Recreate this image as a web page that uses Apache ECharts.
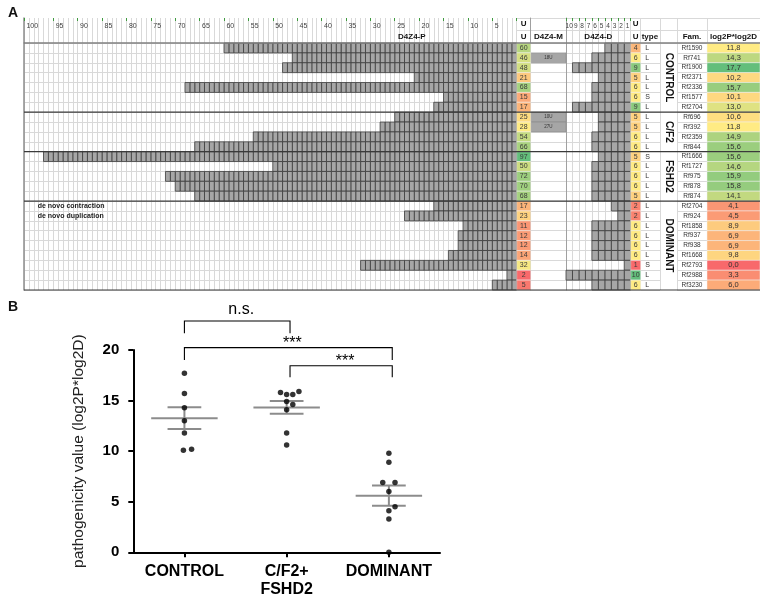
<!DOCTYPE html>
<html><head><meta charset="utf-8">
<script src="https://cdn.jsdelivr.net/npm/echarts@6/dist/echarts.min.js"></script>
<style>html,body{margin:0;padding:0;background:#fff}#c{width:760px;height:599px}</style>
</head><body><div id="c"></div><script>
// ---------------- DATA ----------------
const families = ['Rf1590','Rf741','Rf1900','Rf2371','Rf2336','Rf1577','Rf2704','Rf696','Rf392','Rf2359','Rf844','Rf1666','Rf1727','Rf975','Rf878','Rf874','Rf2704','Rf924','Rf1858','Rf937','Rf938','Rf1668','Rf2793','Rf2988','Rf3230'];
const groupNames = ['CONTROL','C/F2','FSHD2','DOMINANT'];
const groupSizes = [7,4,5,9];
const proximalUnits = [60,46,48,21,68,15,17,25,28,54,66,97,50,72,70,68,17,23,11,12,12,14,32,2,5];
const proximalCells = [60,46,48,21,68,15,17,25,28,54,66,97,50,72,70,66,17,23,11,12,12,14,32,2,5];
const middleLabels = ['','18U','','','','','','10U','27U','','','','','','','','','','','','','','','',''];
const distalUnits = [4,6,9,5,6,6,9,5,5,6,6,5,6,6,6,5,2,2,6,6,6,6,1,10,6];
const distalCells = [4,6,9,5,6,6,9,5,5,6,6,5,6,6,6,6,3,2,6,6,6,6,1,10,6];
const haplotype = ['L','L','L','L','L','S','L','L','L','L','L','S','L','L','L','L','L','L','L','L','L','L','S','L','L'];
const pathoScore = [11.8,14.3,17.7,10.2,15.7,10.1,13.0,10.6,11.8,14.9,15.6,15.6,14.6,15.9,15.8,14.1,4.1,4.5,8.9,6.9,6.9,9.8,0.0,3.3,6.0];
const noteRows = [16,17];
const noteTexts = ['de novo contraction','de novo duplication'];
const proxTickAt = [101,95,90,85,80,75,70,65,60,55,50,45,40,35,30,25,20,15,10,5];
const proxTickLabels = ['100','95','90','85','80','75','70','65','60','55','50','45','40','35','30','25','20','15','10','5'];
const distTickLabels = ['10','9','8','7','6','5','4','3','2','1'];

const plotCategories = ['CONTROL','C/F2+\nFSHD2','DOMINANT'];
const plotGroupOfTableGroup = [0,1,1,2];
const pointJitter = [0,0,0,0.07,0,-0.01,0, 0,0,0,0,0.06,0.06,0.12,-0.06,0, 0,0.06,0,-0.06,0.06,0,0,0,0];
const meanValues = [13.26,14.32,5.6];
const semValues = [1.07,0.63,1.0];
const compFrom = [0,0,1];
const compTo = [1,2,2];
const compLabels = ['n.s.','***','***'];

// ---------------- LAYOUT / STYLE ----------------
const FONT = '"Liberation Sans", Arial, sans-serif';
const HDR_TOP = 18, HDR_H = 25, DATA_TOP = 43, DATA_H = 247;
const colKeys = ['P','U1','M','D','U2','T','G','F','S'];
const colSpan = {P:[24,516.7],U1:[516.7,530.7],M:[530.7,566],D:[566,630.7],U2:[630.7,640.7],T:[640.7,660],G:[660,677],F:[677,707],S:[707,760]};
const GRID_LINE = '#d9d9d9';
const bracketTop = [22.87,20.23,18.45];
const bracketDrop = [1.22,1.22,1.15];
const bracketEndOff = [0,0.033];

const rows = families.length;
const rowCats = families.map((f,i)=>'r'+i);
const proxCats = Array.from({length:101},(_,i)=>String(101-i));
const rowGroup = [];
groupSizes.forEach((n,g)=>{for(let i=0;i<n;i++) rowGroup.push(g);});
const groupStart = [];
{let s=0; groupSizes.forEach(n=>{groupStart.push(s); s+=n;});}

function median(a){const s=[...a].sort((x,y)=>x-y);const n=s.length;return n%2?s[(n-1)/2]:(s[n/2-1]+s[n/2])/2;}
function excel3(v, arr){
  const mn=Math.min(...arr), mx=Math.max(...arr), md=median(arr);
  const red=[248,105,107], yel=[255,235,132], grn=[99,190,123];
  let a,b,t;
  if(v<=md){a=red;b=yel;t=(v-mn)/(md-mn||1);}else{a=yel;b=grn;t=(v-md)/(mx-md||1);}
  t=Math.max(0,Math.min(1,t));
  return 'rgb('+a.map((x,i)=>Math.round(x+(b[i]-x)*t)).join(',')+')';
}
function pos(api,x,y){
  const xs=Array.isArray(x)?x:[x,x], ys=Array.isArray(y)?y:[y,y];
  const a=api.coord([xs[0],ys[0]]), b=api.coord([xs[1],ys[1]]);
  return [(a[0]+b[0])/2,(a[1]+b[1])/2];
}
function textEl(api,it){
  const p=pos(api,it.x,it.y);
  const bw=api.size([1,1])[0];
  let x=p[0];
  if(it.align==='left') x=p[0]-bw/2+(it.dx||0);
  return {type:'text',x:x,y:p[1],rotation:it.rotate||0,silent:true,
    style:{text:it.text,fill:it.color||'#222',fontSize:it.size||7,fontWeight:it.weight||'normal',fontFamily:FONT,align:it.align||'center',verticalAlign:'middle'}};
}
function textSeries(ai,items){
  return {type:'custom',xAxisIndex:ai,yAxisIndex:ai,silent:true,z:6,animation:false,
    data:items.map(()=>[0,0]),
    renderItem:(params,api)=>textEl(api,items[params.dataIndex])};
}
function cellSeries(ai,items,z){
  return {type:'custom',xAxisIndex:ai,yAxisIndex:ai,silent:true,z:z||3,animation:false,
    data:items.map(it=>[it.x,it.y]),
    renderItem:(params,api)=>{
      const it=items[params.dataIndex];
      const c=api.coord([it.x,it.y]); const s=api.size([1,1]);
      const children=[{type:'rect',shape:{x:c[0]-s[0]/2,y:c[1]-s[1]/2,width:s[0],height:s[1]},
        style:{fill:it.fill,stroke:it.stroke||null,lineWidth:it.lw||0}}];
      if(it.text!==undefined && it.text!=='') children.push({type:'text',x:c[0],y:c[1],
        style:{text:it.text,fill:it.color||'#333',fontSize:it.size||7,fontFamily:FONT,align:'center',verticalAlign:'middle'}});
      return {type:'group',children:children};
    }};
}

// ---------------- AXES ----------------
const grids=[], xAxes=[], yAxes=[], series=[];
colKeys.forEach((k,ci)=>{
  const [l,r]=colSpan[k];
  const cats = k==='P'?proxCats:(k==='D'?distTickLabels:['c']);
  const vline = (k==='P'||k==='M'||k==='D');
  const vlineStyle = {color:k==='P'?'#8c8c8c':'#a0a0a0',width:k==='P'?1.5:1};
  grids.push({left:l,top:HDR_TOP,width:r-l,height:HDR_H});
  grids.push({left:l,top:DATA_TOP,width:r-l,height:DATA_H});
  const hx={gridIndex:2*ci,type:'category',data:cats,position:'top',boundaryGap:true,
    axisLine:{show:false},axisTick:{show:false},axisLabel:{show:false},
    splitLine:{show:true,interval:0,lineStyle:{color:GRID_LINE,width:1}}};
  if(k==='P'){
    hx.axisTick={show:true,inside:true,length:3,interval:(i,v)=>proxTickAt.indexOf(+v)>=0,lineStyle:{color:'#3f9a3f',width:1}};
    hx.axisLabel={show:true,inside:true,margin:5,interval:(i,v)=>proxTickAt.indexOf(+v)>=0,
      formatter:(v)=>proxTickLabels[proxTickAt.indexOf(+v)],align:'left',fontSize:7,color:'#404040',fontFamily:FONT};
  }
  if(k==='D'){
    hx.axisTick={show:true,inside:true,length:3,interval:0,lineStyle:{color:'#3f9a3f',width:1}};
    hx.axisLabel={show:true,inside:true,margin:5,interval:0,fontSize:6.5,color:'#404040',fontFamily:FONT};
  }
  xAxes.push(hx);
  xAxes.push({gridIndex:2*ci+1,type:'category',data:cats,boundaryGap:true,
    axisLine:{show:false},axisTick:{show:false},axisLabel:{show:false},
    splitLine:{show:k!=='G',interval:0,lineStyle:{color:GRID_LINE,width:1}}});
  yAxes.push({gridIndex:2*ci,type:'category',data:['h0','h1'],inverse:true,
    axisLine:{show:vline,lineStyle:vlineStyle},axisTick:{show:false},axisLabel:{show:false},
    splitLine:{show:k!=='P',interval:0,lineStyle:{color:GRID_LINE,width:1}}});
  yAxes.push({gridIndex:2*ci+1,type:'category',data:rowCats,inverse:true,
    axisLine:{show:vline,lineStyle:vlineStyle},axisTick:{show:false},axisLabel:{show:false},
    splitLine:{show:k!=='G',interval:0,lineStyle:{color:GRID_LINE,width:1}}});
});
// frame grid (18)
grids.push({left:24,top:DATA_TOP,width:736,height:DATA_H});
xAxes.push({gridIndex:18,type:'value',min:0,max:1,show:false});
yAxes.push({gridIndex:18,type:'value',min:0,max:rows,inverse:true,show:false});
// scatter grid (19)
grids.push({left:133.3,top:350,width:306.7,height:202.3});
xAxes.push({gridIndex:19,type:'category',data:plotCategories,boundaryGap:true,
  axisLine:{show:true,lineStyle:{color:'#000',width:2}},
  axisTick:{show:true,alignWithLabel:true,length:5,interval:0,lineStyle:{color:'#000',width:2}},
  axisLabel:{interval:0,fontSize:16,fontWeight:'bold',color:'#000',margin:10,fontFamily:FONT,lineHeight:18},
  splitLine:{show:false}});
xAxes.push({gridIndex:19,type:'value',min:0,max:3,show:false});
yAxes.push({gridIndex:19,type:'value',min:0,max:20,interval:5,
  axisLine:{show:true,lineStyle:{color:'#000',width:2}},
  axisTick:{show:true,length:5,lineStyle:{color:'#000',width:2}},
  axisLabel:{fontSize:15,fontWeight:'bold',color:'#000',margin:14,fontFamily:FONT},
  splitLine:{show:false},
  name:'pathogenicity value (log2P*log2D)',nameLocation:'middle',nameGap:47,
  nameTextStyle:{fontSize:15.5,color:'#222',fontFamily:FONT}});

const AI = {}; colKeys.forEach((k,ci)=>{AI[k]={h:2*ci,d:2*ci+1};});

// ---------------- TABLE SERIES ----------------
const proxItems=[];
proximalCells.forEach((n,r)=>{for(let u=1;u<=n;u++) proxItems.push({x:101-u,y:r,fill:'#a6a6a6',stroke:'#3c3c3c',lw:0.8});});
series.push(cellSeries(AI.P.d,proxItems));
const distItems=[];
distalCells.forEach((n,r)=>{for(let u=1;u<=n;u++) distItems.push({x:10-u,y:r,fill:'#a6a6a6',stroke:'#3c3c3c',lw:0.8});});
series.push(cellSeries(AI.D.d,distItems));
const midItems=[];
middleLabels.forEach((t,r)=>{if(t) midItems.push({x:0,y:r,fill:'#a6a6a6',stroke:'#8a8a8a',lw:0.6,text:t,size:4.5,color:'#333'});});
series.push(cellSeries(AI.M.d,midItems));
series.push(cellSeries(AI.U1.d,proximalUnits.map((v,r)=>({x:0,y:r,fill:excel3(v,proximalUnits),stroke:'#f2f2f2',lw:0.5,text:String(v),size:7,color:'#3a3a3a'}))));
series.push(cellSeries(AI.U2.d,distalUnits.map((v,r)=>({x:0,y:r,fill:excel3(v,distalUnits),stroke:'#f2f2f2',lw:0.5,text:String(v),size:7,color:'#3a3a3a'}))));
series.push(cellSeries(AI.S.d,pathoScore.map((v,r)=>({x:0,y:r,fill:excel3(v,pathoScore),stroke:'#f2f2f2',lw:0.5,text:v.toFixed(1).replace('.',','),size:7.5,color:'#333'}))));
series.push(textSeries(AI.T.d,haplotype.map((t,r)=>({x:0,y:r,text:t,align:'left',dx:4.5,size:7,color:'#333'}))));
series.push(textSeries(AI.F.d,families.map((t,r)=>({x:0,y:r,text:t,size:6.5,color:'#333'}))));
series.push(textSeries(AI.G.d,groupNames.map((g,i)=>({x:0,y:[groupStart[i],groupStart[i]+groupSizes[i]-1],text:g,rotate:-Math.PI/2,weight:'bold',size:10,color:'#111'}))));
series.push(textSeries(AI.P.d,noteRows.map((r,i)=>({x:3,y:r,text:noteTexts[i],align:'left',dx:-1,size:7,weight:'bold',color:'#222'}))));
const HB={weight:'bold',size:8,color:'#111'};
series.push(textSeries(AI.P.h,[Object.assign({x:79,y:1,text:'D4Z4-P'},HB)]));
series.push(textSeries(AI.U1.h,[Object.assign({x:0,y:0,text:'U'},HB),Object.assign({x:0,y:1,text:'U'},HB)]));
series.push(textSeries(AI.M.h,[Object.assign({x:0,y:1,text:'D4Z4-M'},HB)]));
series.push(textSeries(AI.D.h,[Object.assign({x:[0,9],y:1,text:'D4Z4-D'},HB)]));
series.push(textSeries(AI.U2.h,[Object.assign({x:0,y:0,text:'U'},HB),Object.assign({x:0,y:1,text:'U'},HB)]));
series.push(textSeries(AI.T.h,[Object.assign({x:0,y:1,text:'type',align:'left',dx:1},HB)]));
series.push(textSeries(AI.F.h,[Object.assign({x:0,y:1,text:'Fam.'},HB)]));
series.push(textSeries(AI.S.h,[Object.assign({x:0,y:1,text:'log2P*log2D'},HB)]));
const seps=[0].concat(groupStart.slice(1)).concat([rows]);
series.push({type:'custom',xAxisIndex:18,yAxisIndex:18,silent:true,z:10,animation:false,
  data:seps.map(v=>[0,v]),
  renderItem:(params,api)=>{
    const v=api.value(1); const a=api.coord([0,v]), b=api.coord([1,v]);
    const top=(params.dataIndex===0);
    return {type:'line',shape:{x1:a[0],y1:a[1],x2:b[0],y2:b[1]},style:{stroke:top?'#7f7f7f':'#3a3a3a',lineWidth:top?1.6:1.2}};
  }});

// ---------------- PLOT B SERIES ----------------
series.push({type:'scatter',xAxisIndex:20,yAxisIndex:19,clip:false,z:5,animation:false,symbolSize:5.5,
  itemStyle:{color:'#000'},
  data:pathoScore.map((v,r)=>[plotGroupOfTableGroup[rowGroup[r]]+0.5+pointJitter[r],v])});
series.push({type:'custom',xAxisIndex:20,yAxisIndex:19,z:4,animation:false,silent:true,
  data:meanValues.map((m,i)=>[i+0.5,m,semValues[i]]),
  renderItem:(params,api)=>{
    const x=api.value(0),m=api.value(1),s=api.value(2);
    const pm=api.coord([x,m]),ph=api.coord([x,m+s]),pl=api.coord([x,m-s]);
    const u=api.size([1,0])[0]; const mh=0.325*u, sh=0.165*u;
    const st={stroke:'#8c8c8c',lineWidth:2};
    return {type:'group',children:[
      {type:'line',shape:{x1:pm[0]-mh,y1:pm[1],x2:pm[0]+mh,y2:pm[1]},style:st},
      {type:'line',shape:{x1:ph[0]-sh,y1:ph[1],x2:ph[0]+sh,y2:ph[1]},style:st},
      {type:'line',shape:{x1:pl[0]-sh,y1:pl[1],x2:pl[0]+sh,y2:pl[1]},style:st},
      {type:'line',shape:{x1:ph[0],y1:ph[1],x2:pl[0],y2:pl[1]},style:st}]};
  }});
series.push({type:'custom',xAxisIndex:20,yAxisIndex:19,z:4,clip:false,animation:false,silent:true,
  data:compLabels.map(()=>[0,0]),
  renderItem:(params,api)=>{
    const i=params.dataIndex;
    const x1=compFrom[i]+0.5+bracketEndOff[compFrom[i]===0?0:1];
    const x2=compTo[i]+0.5+bracketEndOff[1];
    const t=bracketTop[i], d=t-bracketDrop[i];
    const a=api.coord([x1,t]), b=api.coord([x2,t]), a2=api.coord([x1,d]), b2=api.coord([x2,d]);
    const st={stroke:'#000',lineWidth:1.1,fill:null};
    const isNs=compLabels[i]==='n.s.';
    return {type:'group',children:[
      {type:'polyline',shape:{points:[a2,a,b,b2]},style:st},
      {type:'text',x:(a[0]+b[0])/2+4,y:a[1]-(isNs?11:4),
        style:{text:compLabels[i],fill:'#000',fontSize:16,fontFamily:FONT,align:'center',verticalAlign:'middle'}}]};
  }});

const chart=echarts.init(document.getElementById('c'));
chart.setOption({
  animation:false,
  backgroundColor:'#fff',
  title:[
    {text:'A',left:3,top:1,textStyle:{fontSize:14,fontWeight:'bold',color:'#111',fontFamily:FONT}},
    {text:'B',left:3,top:295,textStyle:{fontSize:14,fontWeight:'bold',color:'#111',fontFamily:FONT}}],
  grid:grids,xAxis:xAxes,yAxis:yAxes,series:series
});
</script></body></html>
